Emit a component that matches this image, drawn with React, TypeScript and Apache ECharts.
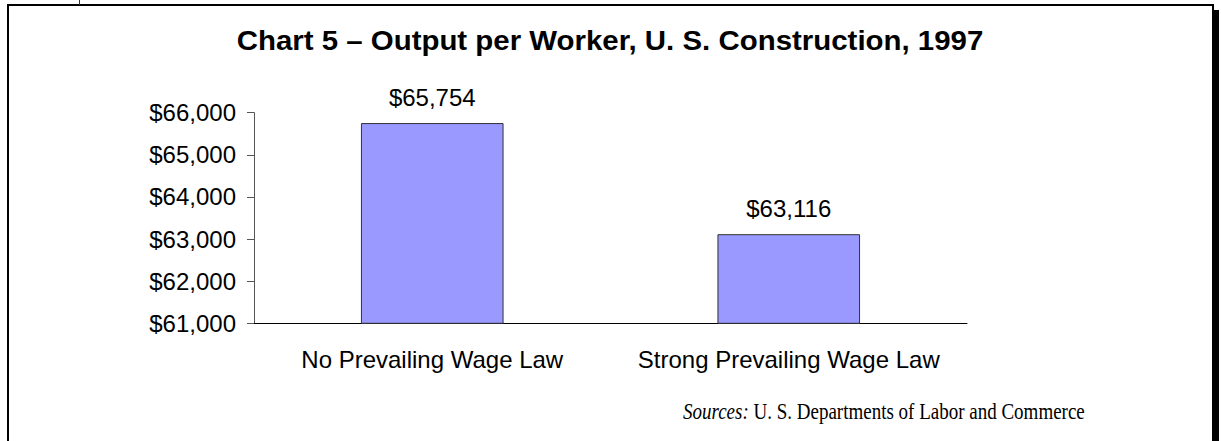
import React, { useEffect, useRef } from "react";
import * as echarts from "echarts";

const categories = ["No Prevailing Wage Law", "Strong Prevailing Wage Law"];
const outputPerWorker = [65754, 63116];
const yMin = 61000;
const yMax = 66000;
const yStep = 1000;
const titleText = "Chart 5 \u2013 Output per Worker, U. S. Construction, 1997";
const sourceLabel = "Sources:";
const sourceText = " U. S. Departments of Labor and Commerce";

const fmt = (v: number) => "$" + Math.round(v).toLocaleString("en-US");

export default function App() {
  const ref = useRef<HTMLDivElement>(null);
  useEffect(() => {
    if (!ref.current) return;
    const chart = echarts.init(ref.current, null, { renderer: "svg" });
    const sans = "'Liberation Sans', Arial, sans-serif";
    const serif = "'Liberation Serif', 'Times New Roman', serif";
    chart.setOption({
      animation: false,
      backgroundColor: "#ffffff",
      grid: { left: 254, right: 254, top: 112.7, bottom: 117.7, containLabel: false },
      xAxis: {
        type: "category",
        data: categories,
        axisLine: { lineStyle: { color: "#000", width: 1 } },
        axisTick: { show: false },
        axisLabel: { color: "#000", fontSize: 24, fontFamily: sans, margin: 24, interval: 0 },
      },
      yAxis: {
        type: "value",
        min: yMin,
        max: yMax,
        interval: yStep,
        axisLine: { show: true, lineStyle: { color: "#555", width: 1 } },
        axisTick: { show: true, length: 7, lineStyle: { color: "#555" } },
        splitLine: { show: false },
        axisLabel: {
          color: "#000",
          fontSize: 24,
          fontFamily: sans,
          margin: 18,
          formatter: (v: number) => fmt(v),
        },
      },
      series: [
        {
          type: "bar",
          data: outputPerWorker,
          barWidth: "40%",
          itemStyle: { color: "#9999FF", borderColor: "#333", borderWidth: 1 },
          label: {
            show: true,
            position: "top",
            distance: 14,
            color: "#000",
            fontSize: 24,
            fontFamily: sans,
            formatter: (p: any) => fmt(p.value),
          },
        },
      ],
      graphic: [
        {
          type: "rect",
          shape: { x: 8, y: 5, width: 1205, height: 470 },
          style: { fill: "none", stroke: "#000", lineWidth: 2 },
          silent: true,
        },
        {
          type: "rect",
          shape: { x: 1213, y: 10, width: 6, height: 440 },
          style: { fill: "#000" },
          silent: true,
        },
        {
          type: "line",
          shape: { x1: 79.5, y1: 0, x2: 79.5, y2: 5 },
          style: { stroke: "#333", lineWidth: 1 },
          silent: true,
        },
        {
          type: "text",
          x: 610,
          y: 40,
          scaleX: 1.09,
          style: {
            text: titleText,
            fill: "#000",
            font: "bold 27px " + sans,
            textAlign: "center",
            textVerticalAlign: "middle",
          },
        },
        {
          type: "text",
          x: 683,
          y: 411,
          scaleY: 1.25,
          style: {
            text: "{i|" + sourceLabel + "}{n|" + sourceText + "}",
            textVerticalAlign: "middle",
            textAlign: "left",
            rich: {
              i: { fontStyle: "italic", fontSize: 19, fontFamily: serif, fill: "#000" },
              n: { fontSize: 19, fontFamily: serif, fill: "#000" },
            },
          },
        },
      ],
    });
    return () => chart.dispose();
  }, []);
  return (
    <div
      ref={ref}
      style={{ position: "absolute", left: 0, top: 0, width: 1221, height: 441 }}
    />
  );
}
